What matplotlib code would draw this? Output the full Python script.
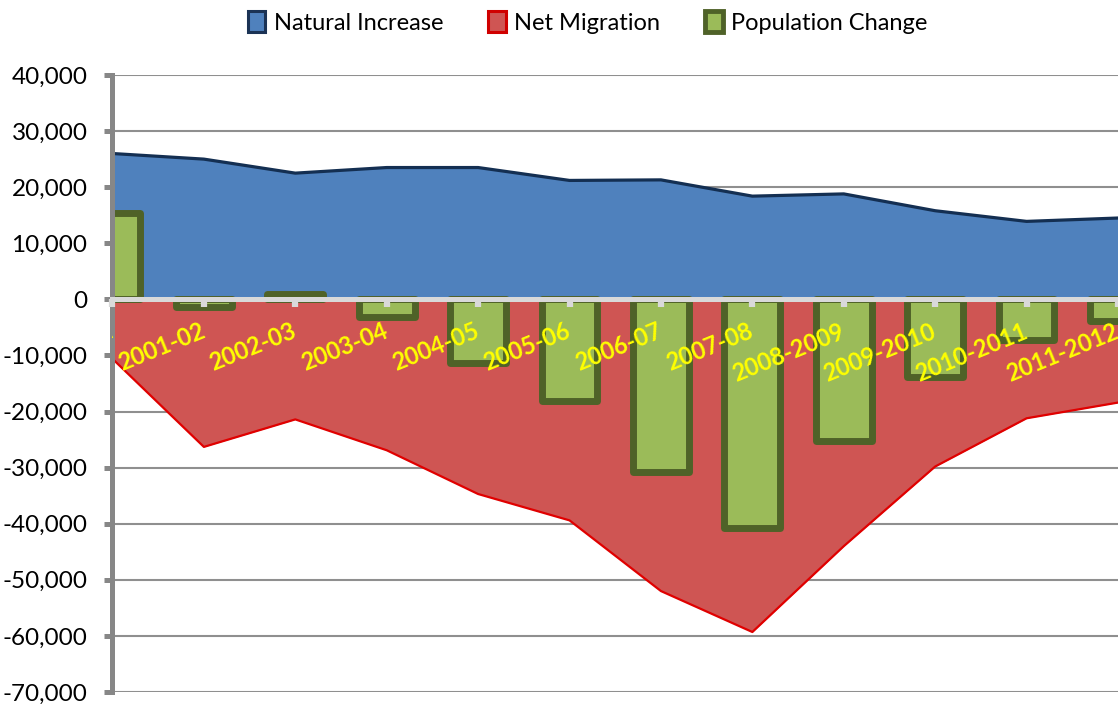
import numpy as np
import matplotlib
matplotlib.use("Agg")
import matplotlib.pyplot as plt
from matplotlib.patches import Patch
from matplotlib.ticker import FuncFormatter
from matplotlib.transforms import offset_copy

plt.rcParams['font.family'] = ['Lato', 'DejaVu Sans']

# data
years = ["2000-01", "2001-02", "2002-03", "2003-04", "2004-05", "2005-06",
         "2006-07", "2007-08", "2008-2009", "2009-2010", "2010-2011", "2011-2012"]
natural_increase = [26000, 25000, 22500, 23500, 23500, 21200,
                    21300, 18400, 18800, 15800, 13900, 14500]
net_migration = [-10600, -26300, -21400, -26900, -34700, -39400,
                 -52000, -59300, -44000, -29800, -21200, -18400]
population_change = [15400, -1300, 1000, -3200, -11300, -18200,
                     -30700, -40700, -25200, -13900, -7200, -3800]

x = np.arange(len(years))

fig = plt.figure(figsize=(11.18, 7.04), dpi=100)
ax = fig.add_axes([0.1006, 0.017, 0.8994, 0.8765])

blue = '#4F81BD'
navy = '#142F52'
red_fill = '#CF5553'
red_line = '#E00000'
green = '#9BBB59'
dkgreen = '#4F6228'

ax.fill_between(x, 0, natural_increase, color=blue, lw=0, zorder=1)
ax.plot(x, natural_increase, color=navy, lw=2.3, zorder=1.2)
ax.fill_between(x, net_migration, 0, color=red_fill, lw=0, zorder=1)
ax.plot(x, net_migration, color=red_line, lw=1.6, zorder=1.2)

ax.bar(x, population_change, width=0.61, color=green, edgecolor=dkgreen,
       linewidth=5, joinstyle='round', zorder=2)

ax.set_xlim(0, len(years) - 1)
ax.set_ylim(-70000, 40000)
ax.set_yticks(np.arange(-70000, 40001, 10000))
ax.yaxis.set_major_formatter(FuncFormatter(lambda v, p: f"{int(v):,}"))
ax.grid(axis='y', color='#8F8F8F', lw=1.5)
ax.yaxis.set_zorder(0.5)
ax.tick_params(axis='y', direction='out', length=6, width=3.6, color='#878787',
               labelsize=17.5, pad=12)

ax.spines['top'].set_visible(False)
ax.spines['right'].set_visible(False)
ax.spines['left'].set_color('#878787')
ax.spines['left'].set_linewidth(3.6)
ax.spines['left'].set_zorder(3)
ax.spines['bottom'].set_position(('data', 0))
ax.spines['bottom'].set_color('#D9D9D9')
ax.spines['bottom'].set_linewidth(3.6)
ax.spines['bottom'].set_zorder(3)

ax.set_xticks(x)
ax.set_xticklabels([])
ax.xaxis.set_zorder(3)
ax.tick_params(axis='x', direction='out', length=6, width=4.5, color='#D9D9D9')

# category names sit inside the plot, rotated, ending at each tick
lab_tr = offset_copy(ax.transData, fig=fig, x=4, y=0, units='dots')
for i, lab in enumerate(years):
    ax.text(i, -3600, lab, rotation=22, ha='right', va='top', color='#FFFF00',
            fontsize=17, fontweight='bold', clip_on=True, zorder=4,
            transform=lab_tr)

handles = [
    Patch(facecolor=blue, edgecolor='#1B3355', linewidth=2.2, label='Natural Increase'),
    Patch(facecolor=red_fill, edgecolor='#D00000', linewidth=2.2, label='Net Migration'),
    Patch(facecolor=green, edgecolor=dkgreen, linewidth=3.5, label='Population Change'),
]
fig.legend(handles=handles, loc='upper center', bbox_to_anchor=(0.5255, 1.008),
           ncol=3, frameon=False, fontsize=17, handlelength=0.75, handleheight=1.0,
           handletextpad=0.35, columnspacing=1.9, borderaxespad=0.3)

fig.savefig('out.png', dpi=100)
